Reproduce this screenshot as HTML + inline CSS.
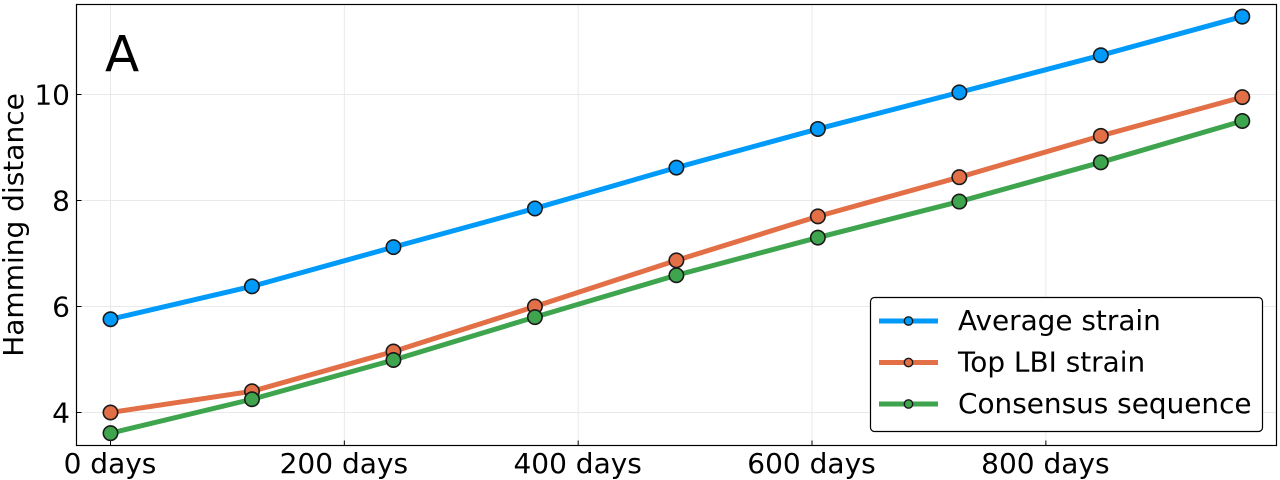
<!DOCTYPE html>
<html>
<head>
<meta charset="utf-8">
<style>
html,body{margin:0;padding:0;background:#fff;width:1280px;height:480px;overflow:hidden}
svg{display:block}
text{font-family:"DejaVu Sans","Liberation Sans",sans-serif;fill:#000}
</style>
</head>
<body>
<svg id="chart" width="1280" height="480" viewBox="0 0 1280 480" xmlns="http://www.w3.org/2000/svg"></svg>
<script>
const days = [0, 121, 242, 363, 484, 605, 726, 847, 968];
const averageStrain = [5.76, 6.38, 7.12, 7.85, 8.62, 9.35, 10.04, 10.74, 11.47];
const topLbiStrain = [4.0, 4.4, 5.15, 6.0, 6.87, 7.7, 8.44, 9.22, 9.95];
const consensusSequence = [3.61, 4.25, 4.99, 5.8, 6.59, 7.3, 7.98, 8.72, 9.5];
const xTicks = [0, 200, 400, 600, 800];
const xTickLabels = ['0 days', '200 days', '400 days', '600 days', '800 days'];
const yTicks = [4, 6, 8, 10];
const yTickLabels = ['4', '6', '8', '10'];
const seriesNames = ['Average strain', 'Top LBI strain', 'Consensus sequence'];
const seriesKeys = ['average-strain', 'top-lbi-strain', 'consensus-sequence'];
const seriesColors = ['#009AFA', '#E26F46', '#3EA44E'];
const seriesValues = [averageStrain, topLbiStrain, consensusSequence];

const svg = document.getElementById('chart');
const NS = 'http://www.w3.org/2000/svg';
const plot = {left: 76.5, right: 1276.5, top: 4.5, bottom: 445.5};
function xScale(d) { return 110.5 + d * 1.1692; }
function yScale(v) { return 412.5 - (v - 4) * 53; }
function make(tag, attrs, text) {
  const el = document.createElementNS(NS, tag);
  for (const k in attrs) el.setAttribute(k, attrs[k]);
  if (text !== undefined) el.textContent = text;
  svg.appendChild(el);
  return el;
}

xTicks.forEach(function (t, i) {
  const x = xScale(t);
  const grid = make('line', {x1: x, x2: x, y1: plot.top, y2: plot.bottom, stroke: '#e9e9e9', 'stroke-width': 1});
  
  
  const tick = make('line', {x1: x, x2: x, y1: plot.bottom, y2: plot.bottom - 5, stroke: '#000', 'stroke-width': 1});
  
  
  const label = make('text', {x: x - 0.5, y: 473, 'text-anchor': 'middle', 'font-size': 28}, xTickLabels[i]);
  
  
});

yTicks.forEach(function (t, i) {
  const y = yScale(t);
  const grid = make('line', {x1: plot.left, x2: plot.right, y1: y, y2: y, stroke: '#e9e9e9', 'stroke-width': 1});
  
  
  const tick = make('line', {x1: plot.left, x2: plot.left + 5, y1: y, y2: y, stroke: '#000', 'stroke-width': 1});
  
  
  const label = make('text', {x: 70, y: y + 10, 'text-anchor': 'end', 'font-size': 28}, yTickLabels[i]);
  
  
});

const frame = make('rect', {x: plot.left, y: plot.top, width: plot.right - plot.left, height: plot.bottom - plot.top, fill: 'none', stroke: '#000', 'stroke-width': 1.2});



const yTitle = make('text', {x: 0, y: 0, transform: 'translate(23,225) rotate(-90)', 'text-anchor': 'middle', 'font-size': 28}, 'Hamming distance');



const panel = make('text', {x: 105, y: 71.5, 'font-size': 50}, 'A');



seriesValues.forEach(function (values, s) {
  const pts = values.map(function (v, i) { return xScale(days[i]) + ',' + yScale(v); }).join(' ');
  const line = make('polyline', {points: pts, fill: 'none', stroke: seriesColors[s], 'stroke-width': 5, 'stroke-linejoin': 'round'});
  
  
  values.forEach(function (v, i) {
    const pt = make('circle', {cx: xScale(days[i]), cy: yScale(v), r: 7.2, fill: seriesColors[s], stroke: '#1a1a1a', 'stroke-width': 1.6});
    
    
  });
});

const legendBox = make('rect', {x: 870.5, y: 297.5, width: 392, height: 134, rx: 4, ry: 4, fill: '#fff', stroke: '#000', 'stroke-width': 1.2});



const legendRows = [321, 362.5, 404];
seriesNames.forEach(function (name, s) {
  const y = legendRows[s];
  const sw = make('line', {x1: 879, x2: 938, y1: y, y2: y, stroke: seriesColors[s], 'stroke-width': 5});
  
  
  const mk = make('circle', {cx: 908.5, cy: y, r: 4.2, fill: seriesColors[s], stroke: '#1a1a1a', 'stroke-width': 1.4});
  
  
  const tx = make('text', {x: 958, y: y + 9, 'font-size': 27.9}, name);
  
  
});
</script>
</body>
</html>
